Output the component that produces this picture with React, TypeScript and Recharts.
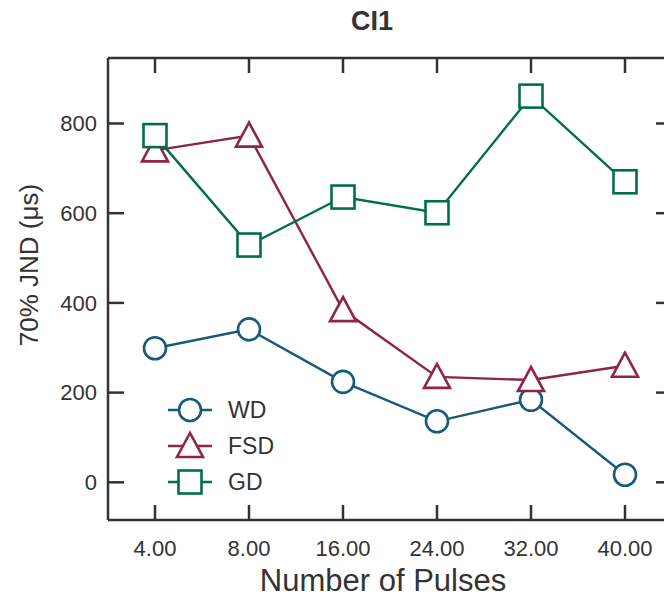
import React from 'react';
import { LineChart, Line, XAxis, YAxis, Legend } from 'recharts';

const categories = ['4.00', '8.00', '16.00', '24.00', '32.00', '40.00'];
const wdValues = [299, 341, 224, 136, 184, 17];
const fsdValues = [740, 773, 384, 235, 228, 260];
const gdValues = [773, 529, 636, 601, 861, 670];
const yTicks = [0, 200, 400, 600, 800];
const yDomain = [-84, 946];

const seriesNames = ['WD', 'FSD', 'GD'];
const seriesColors: Record<string, string> = { WD: '#175a7b', FSD: '#8e2448', GD: '#006f47' };

const data = categories.map((c, i) => ({
  pulses: c,
  WD: wdValues[i],
  FSD: fsdValues[i],
  GD: gdValues[i],
}));

const FONT = '"Liberation Sans", Arial, Helvetica, sans-serif';
const TEXT = '#333333';
const AXIS = '#333333';

function Marker({ kind, cx, cy, color }: { kind: string; cx: number; cy: number; color: string }) {
  if (cx == null || cy == null) return null;
  if (kind === 'WD') {
    return <circle cx={cx} cy={cy} r={11} fill="#fff" stroke={color} strokeWidth={2.6} />;
  }
  if (kind === 'FSD') {
    const pts = `${cx},${cy - 13} ${cx - 13},${cy + 11} ${cx + 13},${cy + 11}`;
    return <polygon points={pts} fill="#fff" stroke={color} strokeWidth={2.6} strokeLinejoin="miter" />;
  }
  return <rect x={cx - 11.5} y={cy - 11.5} width={23} height={23} fill="#fff" stroke={color} strokeWidth={2.6} />;
}

const makeDot = (kind: string) => (props: any) => (
  <Marker key={`${kind}-${props.index}`} kind={kind} cx={props.cx} cy={props.cy} color={seriesColors[kind]} />
);

const LegendContent = () => (
  <div>
    {seriesNames.map((name) => {
      const color = seriesColors[name];
      return (
        <svg key={name} width={140} height={36} style={{ display: 'block' }}>
          <line x1={8} y1={18} x2={52} y2={18} stroke={color} strokeWidth={2.4} />
          <Marker kind={name} cx={30} cy={18} color={color} />
          <text x={68} y={18} dominantBaseline="central" fontFamily={FONT} fontSize={23} fill={TEXT}>
            {name}
          </text>
        </svg>
      );
    })}
  </div>
);

export default function App() {
  const tickStyle = { fontSize: 22, fill: TEXT, fontFamily: FONT };
  const axisLine = { stroke: AXIS, strokeWidth: 2.5 };
  const tickLine = { stroke: AXIS, strokeWidth: 2.5 };
  return (
    <div style={{ position: 'absolute', left: 0, top: 0, width: 664, height: 598, overflow: 'hidden', background: '#fff' }}>
      <div
        style={{
          position: 'absolute', left: 372, top: 8, transform: 'translateX(-50%)',
          fontFamily: FONT, fontWeight: 'bold', fontSize: 27, color: TEXT, lineHeight: 1, whiteSpace: 'nowrap',
        }}
      >
        CI1
      </div>
      <div
        style={{
          position: 'absolute', left: 29, top: 265, transform: 'translate(-50%, -50%) rotate(-90deg)',
          fontFamily: FONT, fontSize: 26, color: TEXT, lineHeight: 1, whiteSpace: 'nowrap',
        }}
      >
        70% JND (μs)
      </div>
      <div
        style={{
          position: 'absolute', left: 383, top: 565, transform: 'translateX(-50%)',
          fontFamily: FONT, fontSize: 31, color: TEXT, lineHeight: 1, whiteSpace: 'nowrap',
        }}
      >
        Number of Pulses
      </div>
      <LineChart width={680} height={598} data={data} margin={{ top: 28, right: 0, bottom: 0, left: 0 }}>
        <XAxis
          xAxisId="bottom"
          dataKey="pulses"
          orientation="bottom"
          height={78}
          padding={{ left: 47, right: 47 }}
          tickSize={-15}
          tickMargin={35}
          tick={tickStyle}
          axisLine={axisLine}
          tickLine={tickLine}
          interval={0}
        />
        <XAxis
          xAxisId="top"
          dataKey="pulses"
          orientation="top"
          height={30}
          padding={{ left: 47, right: 47 }}
          tickSize={-15}
          tickMargin={0}
          tickFormatter={() => ''}
          axisLine={axisLine}
          tickLine={tickLine}
          interval={0}
        />
        <YAxis
          yAxisId="left"
          orientation="left"
          width={108}
          type="number"
          domain={yDomain}
          ticks={yTicks}
          interval={0}
          tickSize={-16}
          tickMargin={27}
          tick={tickStyle}
          axisLine={axisLine}
          tickLine={tickLine}
          allowDataOverflow
        />
        <YAxis
          yAxisId="right"
          orientation="right"
          width={8}
          type="number"
          domain={yDomain}
          ticks={yTicks}
          interval={0}
          tickSize={-16}
          tickMargin={0}
          tickFormatter={() => ''}
          axisLine={axisLine}
          tickLine={tickLine}
          allowDataOverflow
        />
        <Legend
          layout="vertical"
          verticalAlign="middle"
          align="center"
          content={LegendContent}
          wrapperStyle={{ left: 160, top: 392, width: 140, height: 110 }}
        />
        {seriesNames.map((s) => (
          <Line
            key={s}
            xAxisId="bottom"
            yAxisId="left"
            dataKey={s}
            name={s}
            type="linear"
            stroke={seriesColors[s]}
            strokeWidth={2.4}
            dot={makeDot(s)}
            activeDot={false}
            isAnimationActive={false}
          />
        ))}
      </LineChart>
    </div>
  );
}
